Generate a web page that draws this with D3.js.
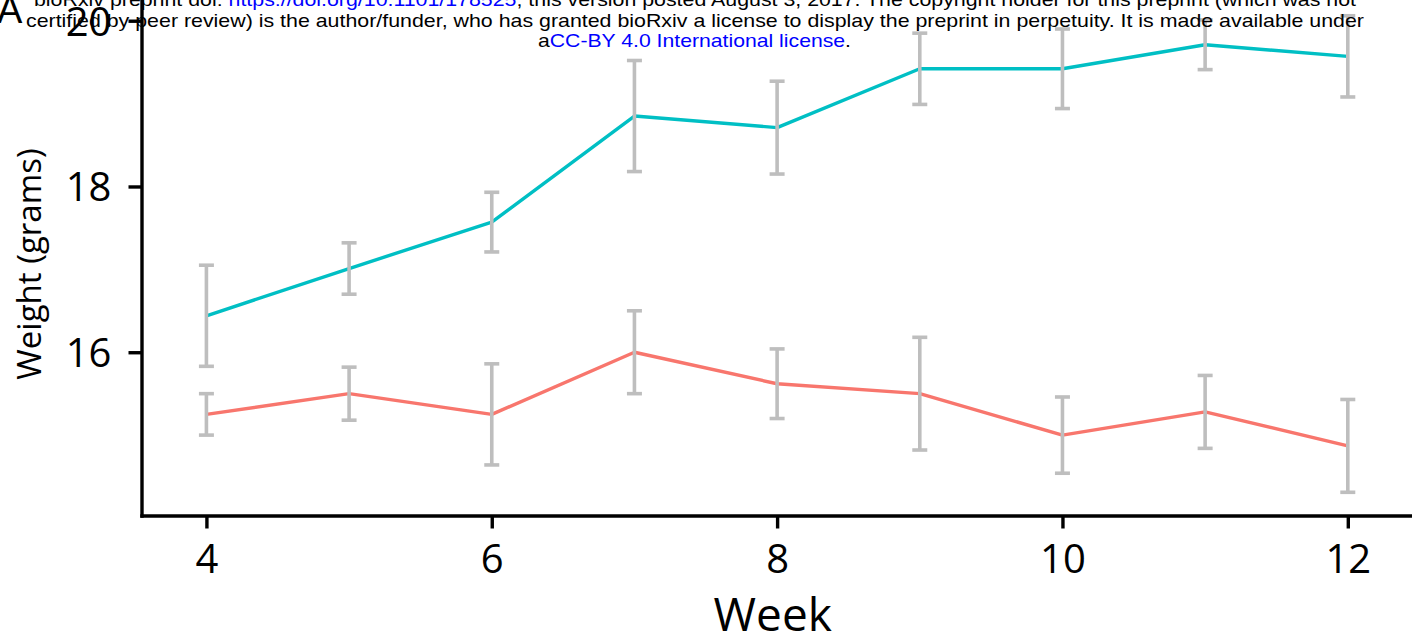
<!DOCTYPE html>
<html>
<head>
<meta charset="utf-8">
<script src="https://cdn.jsdelivr.net/npm/d3@7"></script>
<style>
  html, body { margin: 0; padding: 0; background: #ffffff; overflow: hidden; }
  svg { display: block; }
</style>
</head>
<body>
<svg id="chart" width="1412" height="636"></svg>
<script>
// ---- data ----
const weeks = [4, 5, 6, 7, 8, 9, 10, 11, 12];
const xTickValues = [4, 6, 8, 10, 12];
const yTickValues = [16, 18, 20];

const tealMean = [16.44, 17.01, 17.57, 18.85, 18.71, 19.42, 19.42, 19.71, 19.57];
const tealSE   = [0.61, 0.31, 0.36, 0.67, 0.56, 0.43, 0.48, 0.30, 0.49];
const redMean  = [15.25, 15.50, 15.25, 16.00, 15.62, 15.50, 15.00, 15.28, 14.87];
const redSE    = [0.25, 0.32, 0.61, 0.50, 0.42, 0.68, 0.46, 0.44, 0.56];

const xTitle = "Week";
const yTitle = "Weight (grams)";
const panelLabel = "A";

const headerLine1 = [
  {t: "bioRxiv preprint doi: ", c: "#000000"},
  {t: "https://doi.org/10.1101/178525", c: "#0000ff"},
  {t: "; this version posted August 3, 2017. The copyright holder for this preprint (which was not", c: "#000000"}
];
const headerLine2 = [
  {t: "certified by peer review) is the author/funder, who has granted bioRxiv a license to display the preprint in perpetuity. It is made available under", c: "#000000"}
];
const headerLine3 = [
  {t: "a", c: "#000000"},
  {t: "CC-BY 4.0 International license", c: "#0000ff"},
  {t: ".", c: "#000000"}
];

// ---- layout ----
const plotLeft = 141.5, plotBottom = 515.5, plotRight = 1412, plotTop = 0;
const tickFont = "'Open Sans', sans-serif";

const svg = d3.select("#chart");

const x = d3.scaleLinear().domain([3.545, 12.45]).range([plotLeft, plotRight]);
const y = d3.scaleLinear().domain([14.03, 20.25]).range([plotBottom, plotTop]);

const series = [
  {mean: tealMean, se: tealSE, color: "#00BFC4"},
  {mean: redMean,  se: redSE,  color: "#F8766D"}
];

// lines
const line = d3.line().x(d => x(d.w)).y(d => y(d.m));
series.forEach(s => {
  const pts = weeks.map((w, i) => ({w, m: s.mean[i]}));
  svg.append("path")
    .datum(pts)
    .attr("fill", "none")
    .attr("stroke", s.color)
    .attr("stroke-width", 3.4)
    .attr("stroke-linejoin", "round")
    .attr("d", line);
});

// error bars (on top of lines)
const capHalf = 7.5;
const eb = svg.append("g").attr("stroke", "#BEBEBE").attr("stroke-width", 3.6).attr("fill", "none");
series.forEach(s => {
  weeks.forEach((w, i) => {
    const lo = s.mean[i] - s.se[i], hi = s.mean[i] + s.se[i];
    const cx = x(w);
    eb.append("line").attr("x1", cx).attr("x2", cx).attr("y1", y(lo)).attr("y2", y(hi));
    eb.append("line").attr("x1", cx - capHalf).attr("x2", cx + capHalf).attr("y1", y(lo)).attr("y2", y(lo));
    eb.append("line").attr("x1", cx - capHalf).attr("x2", cx + capHalf).attr("y1", y(hi)).attr("y2", y(hi));
  });
});

// axes
const xAxis = d3.axisBottom(x).tickValues(xTickValues).tickSizeInner(13).tickSizeOuter(0).tickPadding(16).tickFormat(d3.format("d"));
const yAxis = d3.axisLeft(y).tickValues(yTickValues).tickSizeInner(13).tickSizeOuter(0).tickPadding(17).tickFormat(d3.format("d"));

const gx = svg.append("g").attr("transform", `translate(0,${plotBottom})`).call(xAxis);
const gy = svg.append("g").attr("transform", `translate(${plotLeft},0)`).call(yAxis);

[gx, gy].forEach(g => {
  g.select(".domain").attr("stroke", "#000").attr("stroke-width", 3.4).attr("stroke-linecap", "square");
  g.selectAll(".tick line").attr("stroke", "#000").attr("stroke-width", 3.4);
  g.selectAll(".tick text").attr("fill", "#000").style("font-family", tickFont).style("font-size", "40px");
});
gy.selectAll(".tick text").attr("dy", "0.36em");

// axis titles
svg.append("text")
  .attr("x", (plotLeft + plotRight) / 2 - 4)
  .attr("y", 631)
  .attr("text-anchor", "middle")
  .style("font-family", tickFont)
  .style("font-size", "46px")
  .attr("fill", "#000")
  .text(xTitle);

svg.append("text")
  .attr("transform", `translate(41,264) rotate(-90)`)
  .attr("text-anchor", "middle")
  .style("font-family", tickFont)
  .style("font-size", "33px")
  .attr("fill", "#000")
  .text(yTitle);

// panel label
svg.append("text")
  .attr("x", -3)
  .attr("y", 23)
  .style("font-family", "'Liberation Sans', Arial, sans-serif")
  .style("font-size", "38px")
  .attr("fill", "#000")
  .text(panelLabel);

// header (bioRxiv banner)
function header(parts, xPos, yPos, len) {
  const t = svg.append("text")
    .attr("x", xPos)
    .attr("y", yPos)
    .attr("textLength", len)
    .attr("lengthAdjust", "spacingAndGlyphs")
    .style("font-family", "'Liberation Sans', Arial, sans-serif")
    .style("font-size", "19px");
  parts.forEach(p => t.append("tspan").attr("fill", p.c).text(p.t));
}
header(headerLine1, 34, 6, 1322);
header(headerLine2, 26, 27, 1338);
header(headerLine3, 538, 47, 313);
</script>
</body>
</html>
